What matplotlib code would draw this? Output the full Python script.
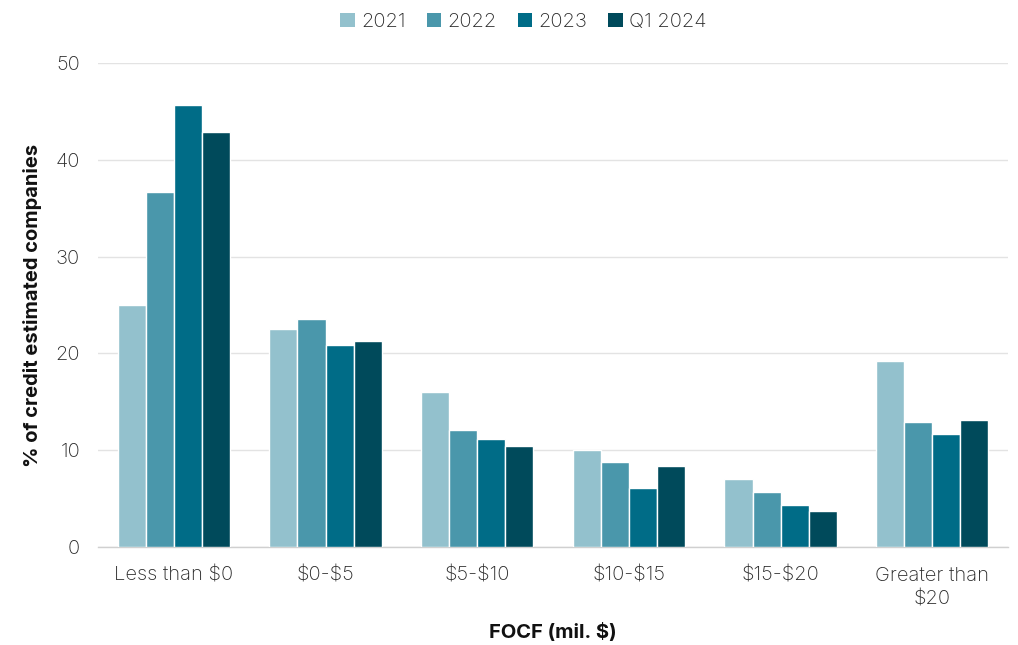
import matplotlib
matplotlib.use("Agg")
import matplotlib.pyplot as plt
import numpy as np

categories = ["Less than $0", "$0-$5", "$5-$10", "$10-$15", "$15-$20", "Greater than\n$20"]
series_names = ["2021", "2022", "2023", "Q1 2024"]
v2021 = [25.0, 22.5, 16.0, 10.0, 7.0, 19.2]
v2022 = [36.7, 23.6, 12.1, 8.8, 5.7, 12.9]
v2023 = [45.7, 20.9, 11.2, 6.1, 4.3, 11.7]
vq1_2024 = [42.9, 21.3, 10.4, 8.4, 3.7, 13.1]
yticks = [0, 10, 20, 30, 40, 50]

colors = ["#93C1CD", "#4A97AB", "#006C87", "#004A5B"]

plt.rcParams['font.family'] = ['Inter', 'DejaVu Sans']

fig = plt.figure(figsize=(10.18, 6.45), dpi=100)
ax = fig.add_axes([0.0963, 0.152, 0.894, 0.750])

x = np.arange(len(categories))
w = 0.185
all_vals = [v2021, v2022, v2023, vq1_2024]
for i, (name, vals, c) in enumerate(zip(series_names, all_vals, colors)):
    ax.bar(x + (i - 1.5) * w, vals, width=w, color=c, edgecolor="white",
           linewidth=1.0, label=name, zorder=3)

ax.set_xlim(-0.5, len(categories) - 0.5)
ax.set_ylim(0, 50)
ax.set_yticks(yticks)
ax.set_xticks(x)
ax.set_xticklabels(categories, fontsize=14.5, color="#2a2a2a", fontweight="light",
                   parse_math=False, linespacing=1.45)
ax.tick_params(axis="y", labelsize=14.5, labelcolor="#2a2a2a", length=0, pad=13)
ax.tick_params(axis="x", length=0, pad=14)
for lbl in ax.get_yticklabels():
    lbl.set_fontweight("light")
ax.grid(axis="y", color="#E3E3E3", linewidth=1.0, zorder=0)
for s in ["top", "right", "left"]:
    ax.spines[s].set_visible(False)
ax.spines["bottom"].set_color("#D0D0D0")
ax.spines["bottom"].set_linewidth(1.0)

ax.set_ylabel("% of credit estimated companies", fontsize=14.5, fontweight="bold",
              color="#111111", labelpad=10)
ax.set_xlabel("FOCF (mil. $)", fontsize=14.5, fontweight="bold", color="#111111",
              labelpad=10, parse_math=False)

leg = fig.legend(loc="upper center", bbox_to_anchor=(0.514, 1.008), ncol=4, frameon=False,
                 fontsize=14.5, handlelength=0.72, handleheight=0.72, handletextpad=0.3,
                 columnspacing=1.05)
for p in leg.get_patches():
    p.set_linewidth(0)
for t in leg.get_texts():
    t.set_color("#2a2a2a")
    t.set_fontweight("light")

fig.savefig("out.png", dpi=100)
